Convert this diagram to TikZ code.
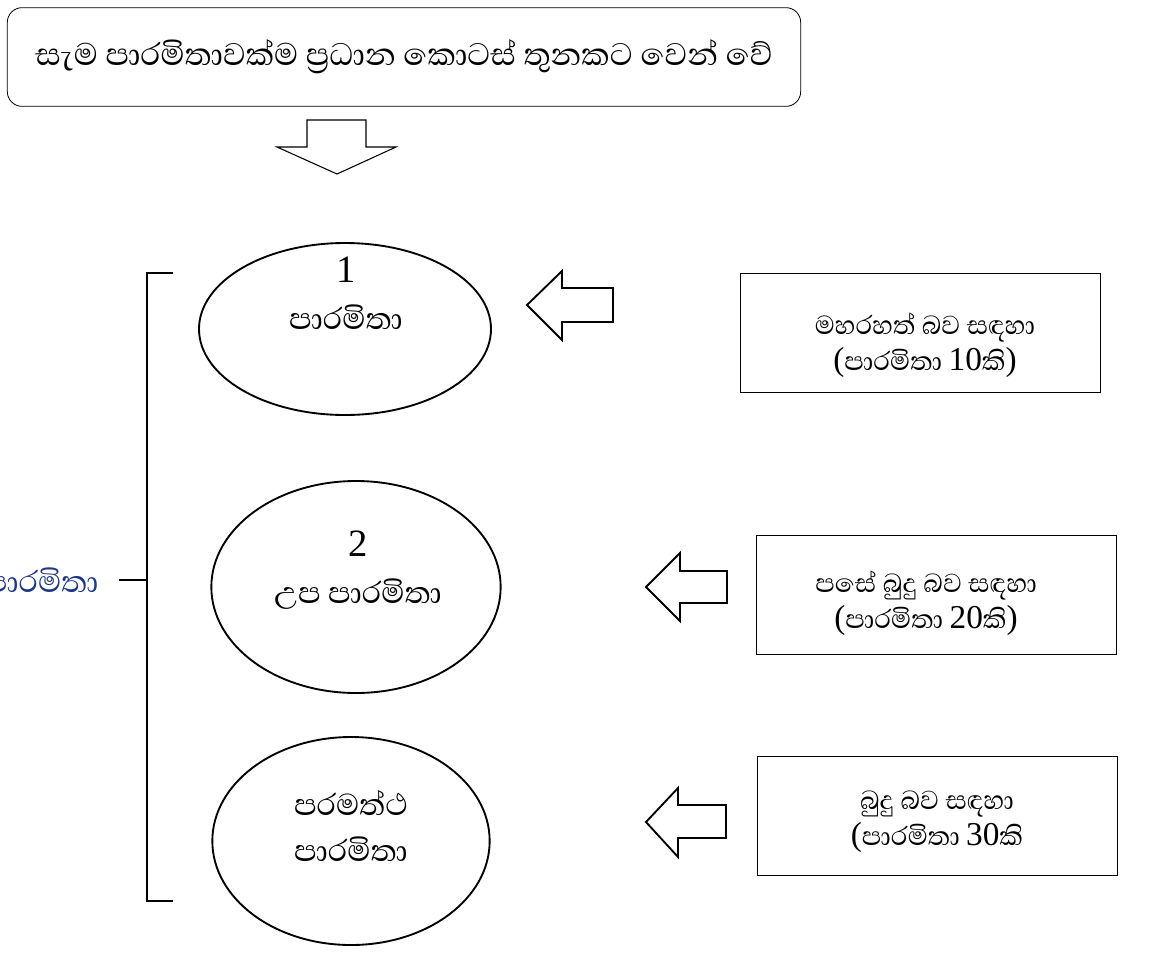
\documentclass[tikz,border=0pt]{standalone}
\usepackage{fontspec}
\setmainfont[Script=Sinhala]{Abhaya Libre}
\newfontfamily\lat{Liberation Serif}
\usetikzlibrary{shapes.geometric}
\definecolor{labelblue}{RGB}{30,55,135}

\begin{document}
\begin{tikzpicture}[x=0.75pt, y=-0.75pt, thick,
  main node/.style={ellipse, draw, line width=1.4pt},
  main text/.style={align=center, font=\fontsize{29}{35}\selectfont},
  text box/.style={rectangle, draw, line width=0.6pt, minimum width=270pt, minimum height=89pt},
  box text/.style={align=center, font=\fontsize{25}{27}\selectfont},
  block arrow/.style={draw, line width=1.4pt, fill=white, line join=miter}]
  \useasboundingbox (0,0) rectangle (1160,961);

  \node[draw, rounded corners=11pt, line width=0.6pt, minimum width=595pt, minimum height=74pt, font=\fontsize{30}{36}\selectfont] (top) at (404,57) {සැම පාරමිතාවක්ම ප්‍රධාන කොටස් තුනකට වෙන් වේ};

  \node[main node, minimum width=219pt, minimum height=129pt] (1) at (345,329) {};
  \node[main node, minimum width=217pt, minimum height=159pt] (2) at (356,587) {};
  \node[main node, minimum width=208pt, minimum height=156pt] (3) at (351,841) {};
  \node[main text] (t1) at (346,293) {{\lat 1}\\පාරමිතා};
  \node[main text] (t2) at (358,570) {{\lat 2}\\උප පාරමිතා};
  \node[main text] (t3) at (351,826) {පරමත්ථ\\පාරමිතා};

  \node[text box] (4) at (920,333) {};
  \node[text box] (5) at (936,595) {};
  \node[text box] (6) at (937,816) {};
  \node[box text] (t4) at (925,345) {මහරහත් බව සඳහා\\{\lat (}පාරමිතා {\lat 10}කි{\lat )}};
  \node[box text] (t5) at (926,603) {පසේ බුදු බව සඳහා\\{\lat (}පාරමිතා {\lat 20}කි{\lat )}};
  \node[box text] (t6) at (937,822) {බුදු බව සඳහා\\{\lat (}පාරමිතා {\lat 30}කි};

  \node[anchor=east, inner xsep=15pt, text=labelblue, font=\fontsize{29}{35}\selectfont] (7) at (119,580) {පාරමිතා};

  % bracket
  \coordinate (bt) at (173,273);
  \coordinate (bb) at (173,901);
  \coordinate (bm) at (147,580);
  \draw[line width=1.4pt] (bt) -- (147,273) -- (147,901) -- (bb);
  \draw[line width=1.4pt] (7.east) -- (bm);

  % arrows
  \coordinate (d) at (337,174);
  \draw[block arrow, line width=0.8pt] (d) -- (277,147) -- (307,147) -- (307,120) -- (366,120) -- (366,147) -- (396,147) -- cycle;
  \coordinate (a1) at (527,305);
  \draw[block arrow] (a1) -- (562,271) -- (562,288) -- (613,288) -- (613,322) -- (562,322) -- (562,340) -- cycle;
  \coordinate (a2) at (646,587);
  \draw[block arrow] (a2) -- (680,553) -- (680,571) -- (727,571) -- (727,603) -- (680,603) -- (680,621) -- cycle;
  \coordinate (a3) at (646,822);
  \draw[block arrow] (a3) -- (678,788) -- (678,805) -- (726,805) -- (726,838) -- (678,838) -- (678,857) -- cycle;
\end{tikzpicture}
\end{document}
